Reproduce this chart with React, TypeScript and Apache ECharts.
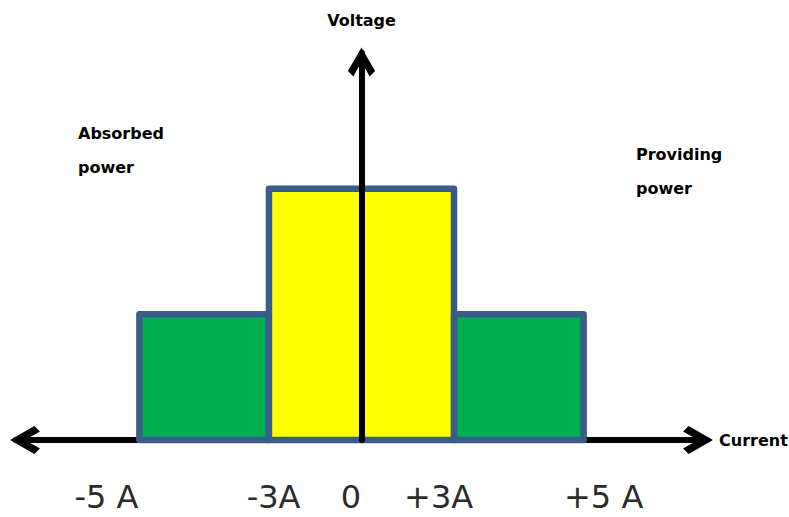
import React, { useEffect, useRef } from "react";
import * as echarts from "echarts";

// Diagram positions along the current axis (not drawn to scale in the original)
const segmentStart = [-7.2, -3, 3];
const segmentEnd = [-3, 3, 7.2];
const segmentLevel = [1, 2, 1];
const segmentColor = ["#00B050", "#FFFF00", "#00B050"];

const tickLabels = ["-5 A", "-3A", "0", "+3A", "+5 A"];
const tickAt = [-8.27, -2.85, -0.34, 2.5, 7.85];

const xName = "Current";
const yName = "Voltage";
const leftNote = "Absorbed\npower";
const rightNote = "Providing\npower";

const chevron = "path://M15 0 L30 26 L24 32 L15 16 L6 32 L0 26 Z";

export default function App() {
  const ref = useRef<HTMLDivElement>(null);
  useEffect(() => {
    if (!ref.current) return;
    const chart = echarts.init(ref.current, undefined, { renderer: "svg" });
    const data = segmentStart.map((s, i) => [s, segmentEnd[i], segmentLevel[i]]);
    chart.setOption({
      animation: false,
      backgroundColor: "#ffffff",
      grid: { left: 16, right: 82, top: 53, bottom: 77, containLabel: false, outerBoundsMode: "none" },
      xAxis: {
        type: "value",
        min: -11.2,
        max: 11.2,
        z: 0,
        name: xName,
        nameLocation: "end",
        nameGap: 12,
        nameTextStyle: { fontFamily: "DejaVu Sans", fontWeight: "bold", fontSize: 16, color: "#000", align: "left", verticalAlign: "middle" },
        axisLine: {
          show: true,
          onZero: true,
          symbol: [chevron, chevron],
          symbolSize: [28, 30],
          symbolOffset: [9, -9],
          lineStyle: { color: "#000", width: 6 },
        },
        axisTick: { show: false },
        splitLine: { show: false },
        axisLabel: {
          customValues: tickAt,
          margin: 41,
          fontSize: 32,
          lineHeight: 32,
          fontFamily: "DejaVu Sans",
          color: "#2b2b2b",
          formatter: (v: number) => {
            const i = tickAt.findIndex((t) => Math.abs(t - v) < 1e-6);
            return i >= 0 ? tickLabels[i] : "";
          },
        },
      },
      yAxis: {
        type: "value",
        min: 0,
        max: 3.08,
        z: 10,
        name: yName,
        nameLocation: "end",
        nameGap: 33,
        nameTextStyle: { fontFamily: "DejaVu Sans", fontWeight: "bold", fontSize: 16, color: "#000", align: "center", verticalAlign: "middle" },
        axisLine: {
          show: true,
          onZero: true,
          symbol: ["none", chevron],
          symbolSize: [30, 29],
          symbolOffset: [0, -9],
          lineStyle: { color: "#000", width: 6 },
        },
        axisTick: { show: false },
        axisLabel: { show: false },
        splitLine: { show: false },
      },
      series: [
        {
          type: "custom",
          z: 2,
          data,
          encode: { x: [0, 1], y: 2 },
          renderItem: (params: any, api: any) => {
            const p0 = api.coord([api.value(0), api.value(2)]);
            const p1 = api.coord([api.value(1), 0]);
            return {
              type: "rect",
              shape: { x: p0[0], y: p0[1], width: p1[0] - p0[0], height: p1[1] - p0[1] },
              style: { fill: segmentColor[params.dataIndex], stroke: "#385D8A", lineWidth: 6.5, lineJoin: "round" },
            };
          },
        },
      ],
      graphic: [
        {
          type: "text",
          left: 78,
          top: 116.5,
          style: { text: leftNote, fontFamily: "DejaVu Sans", fontWeight: "bold", fontSize: 16, lineHeight: 34, fill: "#000" },
        },
        {
          type: "text",
          left: 636,
          top: 137.5,
          style: { text: rightNote, fontFamily: "DejaVu Sans", fontWeight: "bold", fontSize: 16, lineHeight: 34, fill: "#000" },
        },
      ],
    });
    return () => chart.dispose();
  }, []);
  return <div ref={ref} style={{ position: "absolute", left: 0, top: 0, width: 789, height: 517 }} />;
}
